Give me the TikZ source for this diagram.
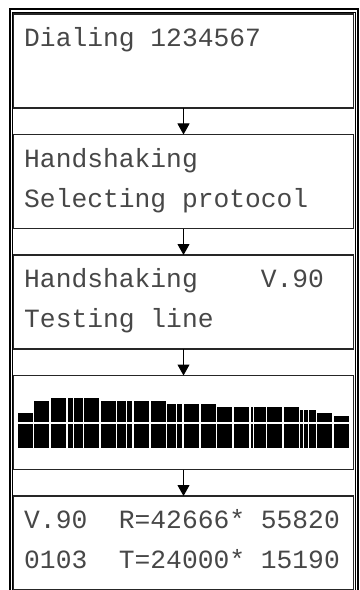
\documentclass[tikz,border=0pt]{standalone}
\usepackage{fontspec}
\setmonofont{Liberation Mono}
\usetikzlibrary{arrows.meta,positioning}

\begin{document}
\begin{tikzpicture}[x=1bp,y=-1bp]
\tikzstyle{lcdbox}=[rectangle,draw=black!85,line width=1.5bp,
minimum width=340bp,minimum height=94bp,
inner sep=0pt,outer sep=0pt,node distance=120.5bp]
\tikzstyle{lcdtext}=[anchor=base west,inner sep=0pt,text=black!72,
font=\ttfamily\fontsize{26.3bp}{40bp}\selectfont]
\tikzstyle{flowarrow}=[-{Triangle[length=11bp,width=12bp]},line width=1bp]
\useasboundingbox (0,0) rectangle (359,590);

% double frame, open at the bottom
\draw[line width=2bp] (9.5,590) -- (9.5,9.5) -- (358,9.5) -- (358,590);
\draw[line width=1bp] (12.5,590) -- (12.5,12.5) -- (355.5,12.5) -- (355.5,590);

\node[lcdbox] at (183.5,61) (1) {};
\node[lcdbox,below of =1] (2) {};
\node[lcdbox,below of =2] (3) {};
\node[lcdbox,below of =3] (4) {};
\node[lcdbox,below of =4] (5) {};

\node[lcdtext] (1a) at ([shift={(10.5bp,-32.5bp)}]1.north west) {Dialing 1234567};
\node[lcdtext] (2a) at ([shift={(10.5bp,-32.5bp)}]2.north west) {Handshaking};
\node[lcdtext] (2b) at ([shift={(10.5bp,-72.5bp)}]2.north west) {Selecting protocol};
\node[lcdtext] (3a) at ([shift={(10.5bp,-32.5bp)}]3.north west) {Handshaking\ \ \ \ V.90};
\node[lcdtext] (3b) at ([shift={(10.5bp,-72.5bp)}]3.north west) {Testing line};
\node[lcdtext] (5a) at ([shift={(10.5bp,-32.5bp)}]5.north west) {V.90\ \ R=42666* 55820};
\node[lcdtext] (5b) at ([shift={(10.5bp,-72.5bp)}]5.north west) {0103\ \ T=24000* 15190};

% signal bars
\foreach \xa/\xb/\ya in {18.3/33/413.3, 34.3/49.3/401, 51/66/398.3,
  67.7/72.7/398.3, 74/82.7/398.3, 84.3/99.3/398.3, 101/115.7/401,
  117.3/125.7/401, 127/132/401, 134/149/401, 151/166/401,
  167/175.7/404, 177/182/404, 184.3/199.3/404, 201/216/404,
  217.3/232/406.7, 234/249/406.7, 250.7/252.7/406.7, 254/266/406.7,
  267.3/282.3/406.7, 284/299/406.7, 300/303.3/410, 304.3/308.3/410,
  309.3/316/410, 317/332/413.3, 334/349/416}
{
\fill (\xa,\ya) rectangle (\xb,421.7);
\fill (\xa,424.3) rectangle (\xb,447.7);
}

\path[flowarrow] (1) edge (2) ;
\path[flowarrow] (2) edge (3) ;
\path[flowarrow] (3) edge (4) ;
\path[flowarrow] (4) edge (5) ;

\end{tikzpicture}
\end{document}
